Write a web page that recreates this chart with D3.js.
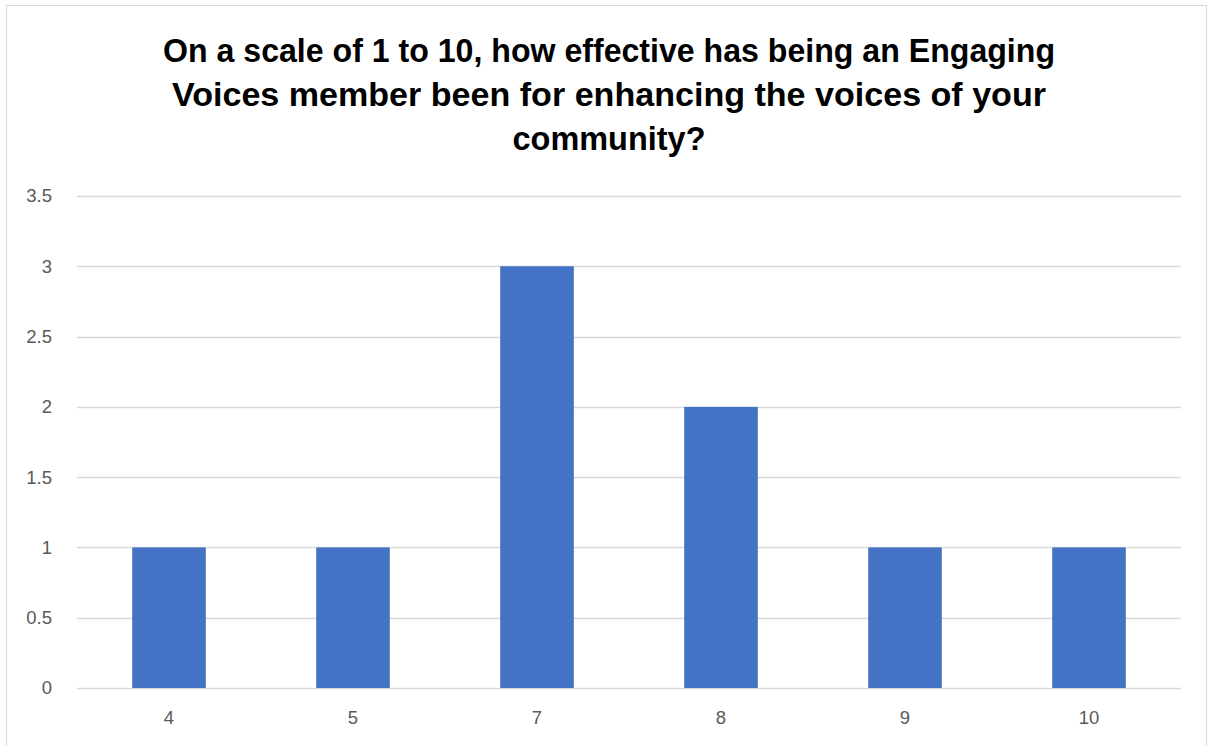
<!DOCTYPE html>
<html><head><meta charset="utf-8">
<script src="https://cdn.jsdelivr.net/npm/d3@7"></script>
<style>html,body{margin:0;padding:0;background:#fff;}</style>
</head><body>
<svg id="c" width="1209" height="746"></svg>
<script>
const categories = ["4", "5", "7", "8", "9", "10"];
const values = [1, 1, 3, 2, 1, 1];
const yTicks = [0, 0.5, 1, 1.5, 2, 2.5, 3, 3.5];
const titleLines = [
  "On a scale of 1 to 10, how effective has being an Engaging",
  "Voices member been for enhancing the voices of your",
  "community?"
];
const titleWidths = [892, 874, 193];

const svg = d3.select("#c");
svg.append("rect").attr("x", 6.5).attr("y", 5.5).attr("width", 1200).attr("height", 760)
  .attr("fill", "#fff").attr("stroke", "#d9d9d9").attr("stroke-width", 1);

const x = d3.scaleBand().domain(categories).range([77, 1181]).paddingInner(0.6).paddingOuter(0.3);
const y = d3.scaleLinear().domain([0, 3.5]).range([688, 196]);

// gridlines
svg.append("g").selectAll("line").data(yTicks).join("line")
  .attr("x1", 77).attr("x2", 1181)
  .attr("y1", d => Math.round(y(d)) + 0.5).attr("y2", d => Math.round(y(d)) + 0.5)
  .attr("stroke", "#d9d9d9").attr("stroke-width", 1.3);

// bars
svg.append("g").selectAll("rect").data(values).join("rect")
  .attr("x", (d, i) => x(categories[i]))
  .attr("width", x.bandwidth())
  .attr("y", d => y(d))
  .attr("height", d => y(0) - y(d))
  .attr("fill", "#4472c4");

// y axis
const yAxis = d3.axisLeft(y).tickValues(yTicks).tickSize(0).tickPadding(0).tickFormat(d => String(d));
const ga = svg.append("g").attr("transform", "translate(52,0)").call(yAxis);
ga.select(".domain").remove();
ga.selectAll("text").attr("font-family", "Liberation Sans, Arial, sans-serif").attr("font-size", 18.5).attr("fill", "#595959");

// x axis
const xAxis = d3.axisBottom(x).tickSize(0).tickPadding(0);
const gx = svg.append("g").attr("transform", "translate(0,711)").call(xAxis);
gx.select(".domain").remove();
gx.selectAll("text").attr("font-family", "Liberation Sans, Arial, sans-serif").attr("font-size", 18.5).attr("fill", "#595959");

// title
svg.append("g").selectAll("text").data(titleLines).join("text")
  .attr("x", 609).attr("y", (d, i) => 62 + i * 44)
  .attr("text-anchor", "middle")
  .attr("font-family", "Liberation Sans, Arial, sans-serif")
  .attr("font-weight", "bold").attr("font-size", 33)
  .attr("fill", "#000")
  .attr("textLength", (d, i) => titleWidths[i])
  .attr("lengthAdjust", "spacingAndGlyphs")
  .text(d => d);
</script>
</body></html>
